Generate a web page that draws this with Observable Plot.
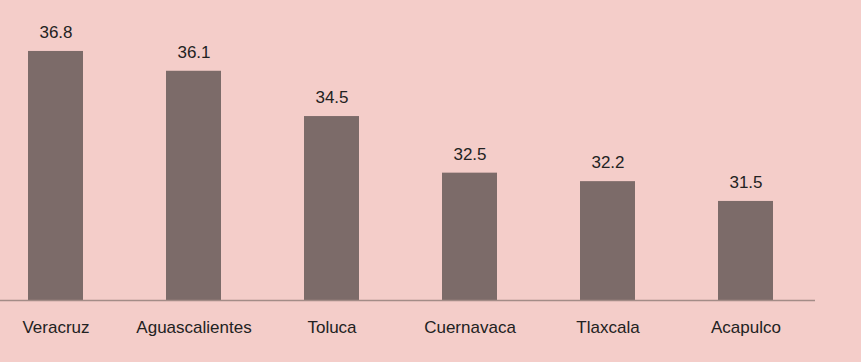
<!DOCTYPE html>
<html>
<head>
<meta charset="utf-8">
<script src="https://cdn.jsdelivr.net/npm/d3@7"></script>
<script src="https://cdn.jsdelivr.net/npm/@observablehq/plot@0.6"></script>
<style>
  html, body { margin: 0; padding: 0; background: #F4CDC9; }
  #chart svg { display: block; }
</style>
</head>
<body>
<div id="chart"></div>
<script>
const cities = ["Veracruz", "Aguascalientes", "Toluca", "Cuernavaca", "Tlaxcala", "Acapulco"];
const values = [36.8, 36.1, 34.5, 32.5, 32.2, 31.5];
const labels = ["36.8", "36.1", "34.5", "32.5", "32.2", "31.5"];

const data = cities.map((c, i) => ({city: c, value: values[i], label: labels[i]}));

const chart = Plot.plot({
  width: 861,
  height: 362,
  marginLeft: 0,
  marginRight: 46,
  marginTop: 17,
  marginBottom: 62,
  style: {background: "#F4CDC9", fontFamily: "Liberation Sans, Arial, sans-serif", fontSize: "17px", color: "#222"},
  x: {domain: cities, range: [-13.5, 815], paddingInner: 0.6, paddingOuter: 0.3, label: null},
  y: {domain: [28, 38], axis: null},
  marks: [
    Plot.barY(data, {x: "city", y1: 28, y2: "value", fill: "#7C6B69"}),
    Plot.ruleY([28], {stroke: "#A38C87", strokeWidth: 1.3}),
    Plot.text(data, {x: "city", y: "value", text: "label", dy: -19, fill: "#222", fontSize: 17}),
    Plot.axisX({tickSize: 0, tickPadding: 20, fontSize: 17, fill: "#222", label: null})
  ]
});
document.getElementById("chart").appendChild(chart);
</script>
</body>
</html>
